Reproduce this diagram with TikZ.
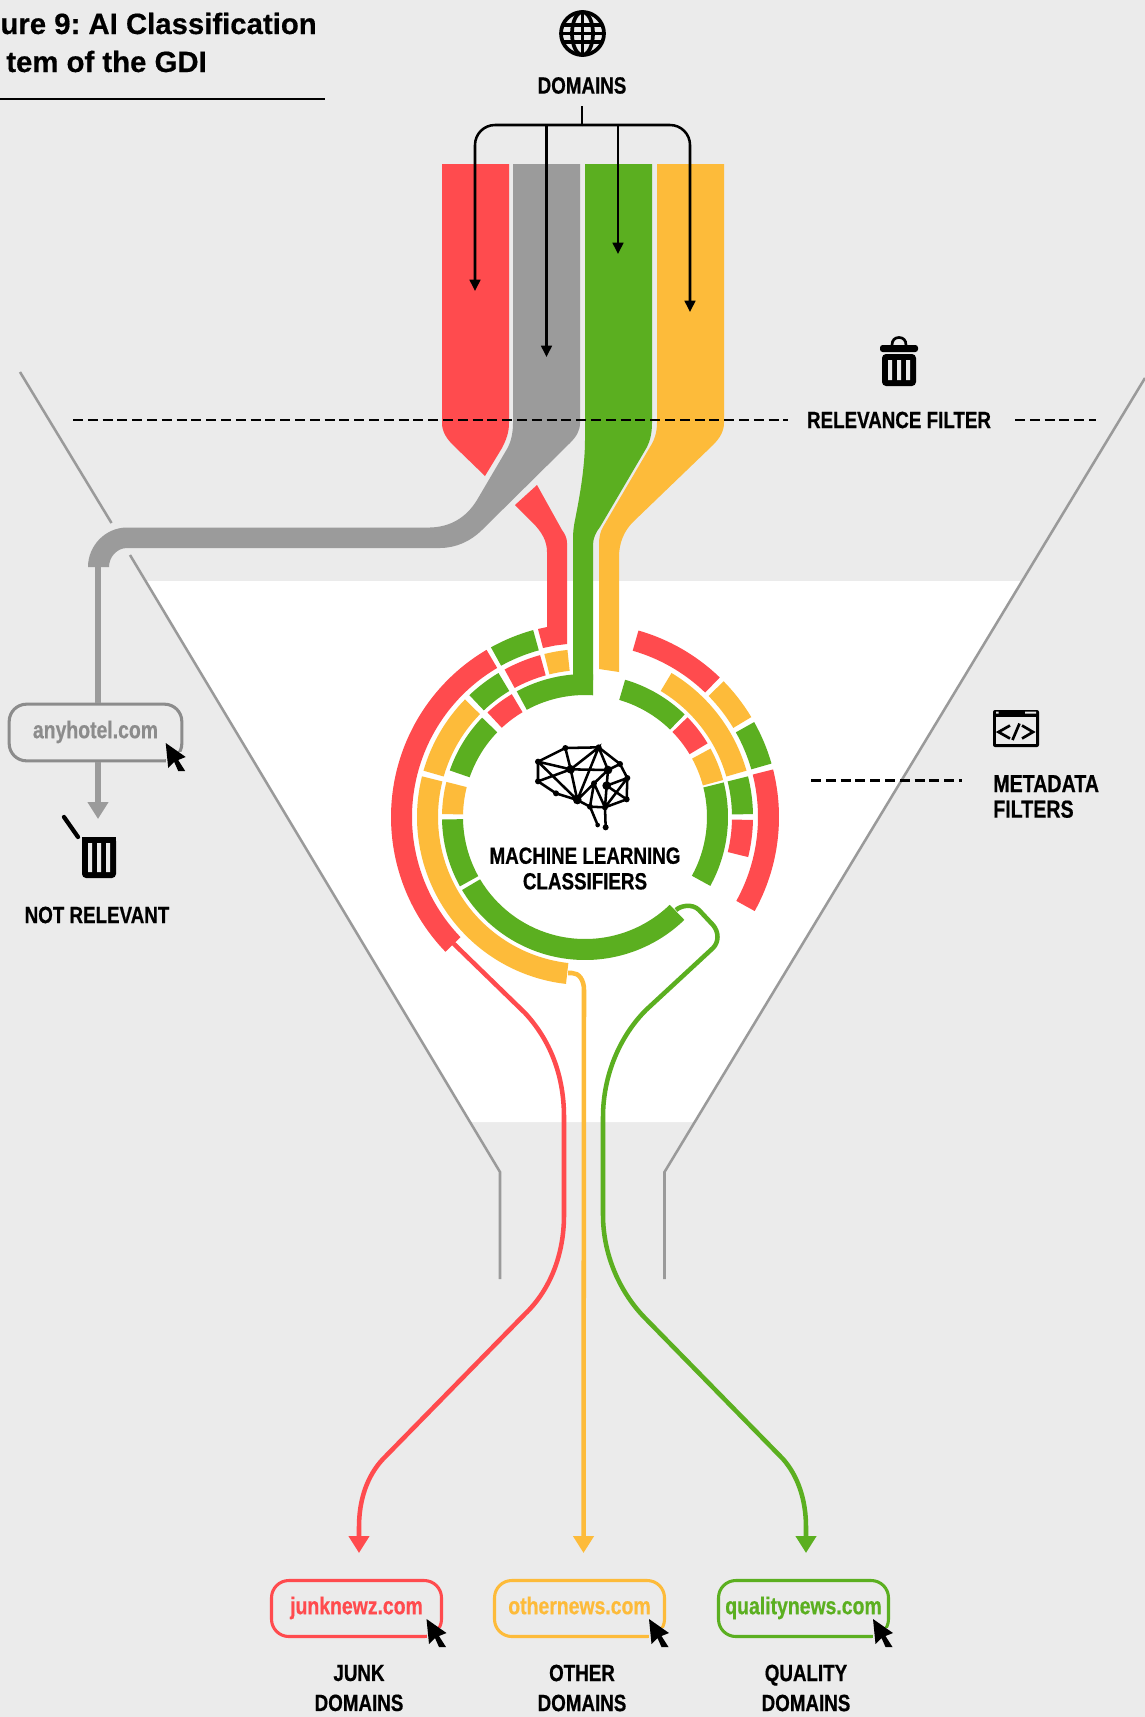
\documentclass[tikz,border=0pt]{standalone}
\usepackage{fontspec}
\usetikzlibrary{arrows.meta}
\frenchspacing
\newfontfamily\labfont[FakeStretch=0.8,BoldFeatures={FakeStretch=0.8,FakeBold=0.6}]{Liberation Sans}
\newfontfamily\titlefont[BoldFeatures={FakeBold=0.5}]{Liberation Sans}
\definecolor{bgc}{HTML}{EBEBEB}
\definecolor{cred}{HTML}{FF4B4E}
\definecolor{cgray}{HTML}{9B9B9B}
\definecolor{cgreen}{HTML}{5BAF20}
\definecolor{corange}{HTML}{FDBB3A}
\definecolor{cfunnel}{HTML}{9A9A9A}
\definecolor{ctext}{HTML}{8C8C8C}
\newcommand{\ringseg}[5]{\fill[#1] (#4:#2) arc[start angle=#4,end angle=#5,radius=#2] -- (#5:#3) arc[start angle=#5,end angle=#4,radius=#3] -- cycle;}
\newcommand{\mycursor}[2]{\begin{scope}[shift={(#1,#2)}]
\fill[bgc] (0,9) rectangle (22,26);
\fill[black] (0,0) -- (20,14) -- (12.5,17) -- (19.5,28) -- (12.5,28) -- (8.5,19) -- (2.5,25) -- cycle;
\end{scope}}
\tikzset{
 lab/.style={font=\labfont\bfseries\fontsize{17.6}{22.5}\selectfont,align=center,text=black,inner sep=0pt},
 tightlab/.style={lab,font=\labfont\bfseries\fontsize{17.6}{19.2}\selectfont},
 urlbox/.style={draw=#1,text=#1,line width=2.3pt,rounded corners=13pt,minimum width=127.5pt,minimum height=42pt,inner sep=0pt,text height=11pt,text depth=2.5pt,font=\labfont\bfseries\fontsize{18.2}{22}\selectfont},
 funnel/.style={draw=cfunnel,line width=1.9pt},
 flow/.style={line width=3.4pt,line join=round},
 domarrow/.style={line width=1.9pt,-{Triangle[width=8pt,length=8.5pt]}},
 bigtip/.style={-{Triangle[width=15pt,length=12.75pt]}},
 dashline/.style={line width=1.9pt,dash pattern=on 7.5pt off 3.6pt},
 titletext/.style={font=\titlefont\bfseries\fontsize{22}{27}\selectfont,anchor=base east,inner sep=0pt,text=black},
 brainedge/.style={line width=1.9pt}
}
\begin{document}
\begin{tikzpicture}[x=0.75pt,y=-0.75pt]
\useasboundingbox (0,0) rectangle (1145,1717);
\fill[bgc] (0,0) rectangle (1145,1717);
% white funnel
\fill[white] (145.6,581) -- (1021,581) -- (695,1122) -- (470,1122) -- cycle;
\draw[funnel] (20,372) -- (111.5,523);
\draw[funnel] (130,555) -- (500,1172) -- (500,1279);
\draw[funnel] (1145,378) -- (664.5,1172) -- (664.5,1279);
% title
\node[titletext] (title1) at (317,34) {ure 9: AI Classification};
\node[titletext] (title2) at (207,72) {tem of the GDI};
\draw[line width=1.1pt] (0,99) -- (325,99);
% chutes
\fill[cred] (442,164) -- (442,423) .. controls (442,432) and (447,439) .. (453,445) -- (485,476) -- (502,448) .. controls (506,440) and (509,433) .. (509,423) -- (509,164) -- cycle;
\fill[cgray] (513,164) -- (513,423) .. controls (513,433) and (511,442) .. (507,449) -- (477,500) .. controls (466,518) and (450,527) .. (430,527.5) -- (127,527.5) .. controls (105.5,527.5) and (88,545.5) .. (88,567) -- (109,567) .. controls (109,557) and (117,548) .. (127,548) -- (440,548) .. controls (456,548) and (471,541) .. (482,530) -- (570,443) .. controls (576,437) and (580,431) .. (580,423) -- (580,164) -- cycle;
\fill[cred] (537,485) -- (515,505) -- (532,522) .. controls (542,532) and (547,541) .. (547,552) -- (547,627) -- (538,629) -- (543,648) -- (555,645.5) -- (567,644) -- (567,543) .. controls (567,538) and (565,534) .. (562,530) -- cycle;
\fill[cgreen] (585,164) -- (585,440) .. controls (585,470) and (578,505) .. (575,520) .. controls (573,530) and (573,535) .. (573,545) -- (573,680) -- (593,680) -- (593,545) .. controls (593,538) and (596,532) .. (600,527) -- (647,447) .. controls (650,441) and (652,433) .. (652,423) -- (652,164) -- cycle;
\fill[corange] (657,164) -- (657,423) .. controls (657,433) and (654,441) .. (650,447) -- (603,527) .. controls (600,532) and (599,538) .. (599,545) -- (599,669) -- (609,670.5) -- (619,672) -- (619,557) .. controls (619,543) and (624,531) .. (633,522) -- (713,445) .. controls (720,438) and (724,431) .. (724,423) -- (724,164) -- cycle;
% rings
\begin{scope}[shift={(585,817)},y=0.75pt]
% outer
\ringseg{cred}{194}{173}{120.5}{224}
\ringseg{cgreen}{194}{173}{105.5}{119}
\ringseg{cred}{194}{173}{46}{74}
\ringseg{corange}{194}{173}{31}{44.4}
\ringseg{cgreen}{194}{173}{16}{29.3}
\ringseg{cred}{194}{173}{-29}{14.2}
% middle
\ringseg{corange}{168}{147}{96}{104}
\ringseg{cred}{168}{147}{105.5}{118.6}
\ringseg{cgreen}{168}{147}{121}{133.5}
\ringseg{corange}{168}{147}{135.6}{164}
\ringseg{corange}{168}{147}{166}{263.5}
\ringseg{corange}{168}{147}{16}{59}
\ringseg{cgreen}{168}{147}{1}{14}
\ringseg{cred}{168}{147}{-13.8}{-1}
% inner
\fill[cgreen] (118.5:143) arc[start angle=118.5,end angle=94.8,radius=143] -- (8,142.6) -- (86.2:122) arc[start angle=86.2,end angle=118.5,radius=122] -- cycle;
\ringseg{cred}{143}{122}{120.8}{133}
\ringseg{cgreen}{143}{122}{136}{161}
\ringseg{corange}{143}{122}{165.8}{178.8}
\ringseg{cgreen}{143}{122}{181}{209}
\ringseg{cgreen}{143}{122}{210.7}{314}
\ringseg{cgreen}{143}{122}{45.8}{73.7}
\ringseg{cred}{143}{122}{31}{44.2}
\ringseg{corange}{143}{122}{15}{28.6}
\ringseg{cgreen}{143}{122}{-28.8}{14}
\end{scope}
% dashed filters
\draw[dashline] (73,420) -- (788,420);
\draw[dashline] (1015,420) -- (1096,420);
\draw[dashline] (811,780.7) -- (962,780.7);
% domain icon and label
\begin{scope}[shift={(582.5,33.5)}]
\draw[line width=2.8pt] (0,0) circle[radius=21.5];
\draw[line width=2.8pt] (0,0) ellipse[x radius=10.5,y radius=21.5];
\draw[line width=2.8pt] (-20,-8.5) -- (20,-8.5) (-20,8.5) -- (20,8.5) (-22,0) -- (22,0);
\draw[line width=2.8pt] (0,-21.5) -- (0,21.5);
\end{scope}
\node[lab] (domains) at (582,85.5) {DOMAINS};
% bracket
\coordinate (stemtop) at (582,106);
\coordinate (stemjoin) at (582,125);
\coordinate (tipa) at (475,291);
\coordinate (tipb) at (546.5,357);
\coordinate (tipc) at (618,254);
\coordinate (tipd) at (690,312);
\draw[line width=1.9pt] (stemtop) -- (stemjoin);
\draw[domarrow,rounded corners=15pt] (stemjoin) -- (tipa |- stemjoin) -- (tipa);
\draw[domarrow,rounded corners=15pt] (stemjoin) -- (tipd |- stemjoin) -- (tipd);
\draw[domarrow] (tipb |- stemjoin) -- (tipb);
\draw[domarrow] (tipc |- stemjoin) -- (tipc);
% relevance filter
\begin{scope}
\draw[line width=2pt] (892,345) .. controls (892,340) and (895,337.5) .. (899,337.5) .. controls (903,337.5) and (906,340) .. (906,345);
\fill[black,rounded corners=2pt] (880,345) rectangle (918,352);
\fill[black,rounded corners=3pt] (882,354) -- (916,354) -- (916,386) -- (882,386) -- cycle;
\fill[bgc] (888,360) rectangle (892,380) (897,360) rectangle (901,380) (906,360) rectangle (910,380);
\end{scope}
\node[lab] (relevance) at (899,420) {RELEVANCE FILTER};
% metadata
\fill[black,rounded corners=1.5pt] (993,710) rectangle (1039,747);
\fill[bgc] (996,717) rectangle (1036,744);
\fill[bgc] (996,711.7) rectangle (998.5,713.7) (1025,711.7) rectangle (1036,713.7);
\draw[line width=2pt] (1010,725.5) -- (998.5,732) -- (1010,738.5);
\draw[line width=2pt] (1022,725.5) -- (1033,732) -- (1022,738.5);
\draw[line width=2pt] (1012.5,740) -- (1019.5,723.5);
\node[tightlab,align=left,anchor=west,font=\labfont\bfseries\fontsize{18.4}{19.2}\selectfont] (metadata) at (993,796.5) {METADATA\\FILTERS};
% brain
\begin{scope}[shift={(510,720)},x=0.25pt,y=-0.25pt]
\coordinate (A) at (84,125); \coordinate (B) at (166,84); \coordinate (C) at (266,82);
\coordinate (D) at (330,132); \coordinate (E) at (352,174); \coordinate (F) at (350,238);
\coordinate (G) at (285,262); \coordinate (H) at (240,260); \coordinate (I) at (202,240);
\coordinate (J) at (138,220); \coordinate (K) at (84,184); \coordinate (L) at (182,148);
\coordinate (M) at (294,150); \coordinate (N) at (290,197); \coordinate (O) at (252,190);
\coordinate (P) at (263,315); \coordinate (Q) at (287,322);
\draw[brainedge] (A)--(B)--(C)--(D)--(E)--(F)--(G)--(H)--(I)--(J)--(K)--(A);
\draw[brainedge] (A)--(L)--(B) (K)--(L)--(I)--(A) (L)--(C)--(I) (L)--(M)--(C) (D)--(M)--(N)--(E) (N)--(F) (N)--(G) (O)--(H) (O)--(I) (O)--(G) (O)--(M) (H)--(P) (G)--(Q) (E)--(G);
\foreach \p/\r in {A/9,B/9,C/9,D/9,E/9,F/9,G/9,H/9,J/9,K/9,O/9,P/7,Q/9,I/13,L/13,M/13,N/13}
  \fill (\p) circle[radius=\r];
\end{scope}
\node[tightlab] (mlc) at (585,868.5) {MACHINE LEARNING\\CLASSIFIERS};
% gray route
\coordinate (pipeend) at (98,567);
\coordinate (bintip) at (98,819);
\node[urlbox=ctext,minimum width=129.5pt,minimum height=42.5pt] (anyhotel) at (95.5,732.5) {anyhotel.com};
\draw[cgray,line width=3.8pt] (pipeend) -- (pipeend |- anyhotel.north);
\draw[cgray,line width=3.8pt,bigtip] (pipeend |- anyhotel.south) -- (bintip);
\mycursor{165.7}{743}
\draw[line width=3.2pt,line cap=round] (64,817) -- (78,837);
\fill[black,rounded corners=3pt] (82,837) -- (116,837) -- (116,878) -- (82,878) -- cycle;
\fill[black] (82,837) rectangle (116,842);
\fill[bgc] (88,843) rectangle (92,872) (97,843) rectangle (101,872) (106,843) rectangle (110,872);
\node[lab] (notrel) at (97,915) {NOT RELEVANT};
% output boxes
\node[urlbox=cred] (junk) at (356.5,1608.5) {junknewz.com};
\node[urlbox=corange] (other) at (579.5,1608.5) {othernews.com};
\node[urlbox=cgreen] (quality) at (803.5,1608.5) {qualitynews.com};
\mycursor{426.5}{1619}
\mycursor{649}{1619}
\mycursor{873}{1619}
\node[lab] (junkl) at (359,1688) {JUNK\\DOMAINS};
\node[lab] (otherl) at (582,1688) {OTHER\\DOMAINS};
\node[lab] (qualityl) at (806,1688) {QUALITY\\DOMAINS};
% connectors
\coordinate (rstart) at (453,943);
\coordinate (rtip) at (359,1553);
\coordinate (ostart) at (568,973);
\coordinate (otip) at (583.5,1553);
\coordinate (gstart) at (676,910);
\coordinate (gtip) at (806,1553);
\draw[cred,flow,bigtip] (rstart) -- (525,1013) .. controls (550,1040) and (564,1075) .. (564,1117) -- (564,1215) .. controls (564,1255) and (550,1290) .. (525,1314) -- (383,1459) .. controls (367,1476) and (359,1500) .. (359,1527) -- (rtip);
\draw[corange,flow,bigtip] (ostart) -- (572,973) .. controls (579,973) and (584,980) .. (584,990) -- (otip);
\draw[cgreen,flow,bigtip] (gstart) .. controls (680,906) and (692,903) .. (699,910) -- (713,925) .. controls (719,932) and (719,942) .. (713,948) -- (646,1010) .. controls (620,1036) and (603,1075) .. (603,1117) -- (603,1215) .. controls (603,1255) and (620,1293) .. (646,1319) -- (783,1459) .. controls (798,1476) and (806,1500) .. (806,1527) -- (gtip);
\end{tikzpicture}
\end{document}
